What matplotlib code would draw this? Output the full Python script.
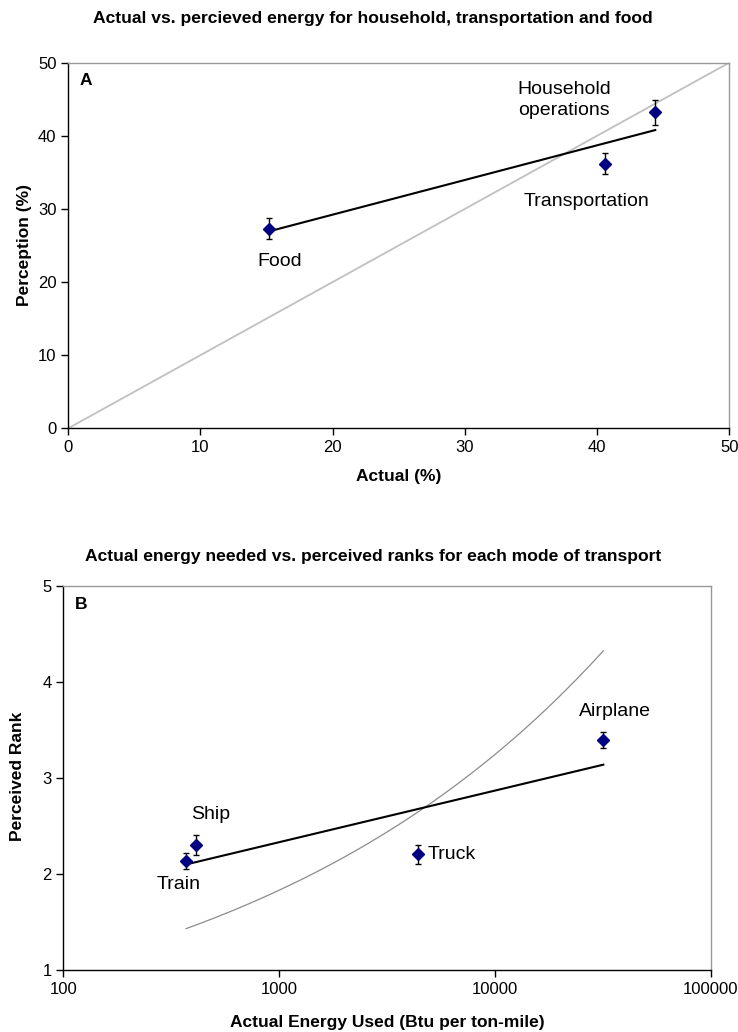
import numpy as np
import matplotlib
matplotlib.use("Agg")
import matplotlib.pyplot as plt
from matplotlib.ticker import FixedLocator, NullLocator, FuncFormatter

plt.rcParams['font.family'] = ['Liberation Sans', 'DejaVu Sans']

# -----------------------------------------------------------
# Data - panel A (household / transportation / food)
# -----------------------------------------------------------
cat_a = ['Food', 'Transportation', 'Household\noperations']
actual_a = [15.2, 40.6, 44.4]
percep_a = [27.3, 36.2, 43.2]
err_a = [1.45, 1.45, 1.7]
# where each label sits (data coords)
lab_a_x = [16.0, 39.2, 37.5]
lab_a_y = [22.8, 31.0, 44.9]

# -----------------------------------------------------------
# Data - panel B (modes of transport)
# -----------------------------------------------------------
cat_b = ['Train', 'Ship', 'Truck', 'Airplane']
energy_b = [371, 412, 4400, 31800]
percep_b = [2.135, 2.30, 2.205, 3.394]
err_b = [0.08, 0.10, 0.10, 0.08]
actual_rank_b = [1, 2, 3, 4]
lab_b_x = [344, 480, 4900, 36000]
lab_b_y = [1.89, 2.62, 2.20, 3.69]
lab_b_ha = ['center', 'center', 'left', 'center']

NAVY = '#000080'

fig = plt.figure(figsize=(7.38, 10.32), dpi=100)


def style_axes(ax):
    for s in ['top', 'right']:
        ax.spines[s].set_color('#999999')
        ax.spines[s].set_linewidth(1.0)
    for s in ['left', 'bottom']:
        ax.spines[s].set_color('black')
        ax.spines[s].set_linewidth(1.0)
    ax.tick_params(direction='out', length=5, width=1, labelsize=12,
                   top=False, right=False, colors='black', pad=3.5)


# -----------------------------------------------------------
# Panel A
# -----------------------------------------------------------
axA = fig.add_axes([0.0925, 0.585, 0.8957, 0.3543])
axA.plot([0, 50], [0, 50], color='#c0c0c0', lw=1.3, zorder=1)
coef = np.polyfit(actual_a, percep_a, 1)
xs = np.array([min(actual_a), max(actual_a)])
axA.plot(xs, np.polyval(coef, xs), color='black', lw=1.5, zorder=2)
axA.errorbar(actual_a, percep_a, yerr=err_a, fmt='D', color=NAVY, ms=6.5,
             ecolor='black', elinewidth=1.0, capsize=2.5, capthick=1.0, zorder=3)
for name, x, y in zip(cat_a, lab_a_x, lab_a_y):
    axA.text(x, y, name, fontsize=14, ha='center', va='center', linespacing=1.3)
axA.set_xlim(0, 50)
axA.set_ylim(0, 50)
axA.set_xticks([0, 10, 20, 30, 40, 50])
axA.set_yticks([0, 10, 20, 30, 40, 50])
axA.text(0.027, 0.951, 'A', transform=axA.transAxes, fontsize=12.5,
         fontweight='bold', ha='center', va='center')
style_axes(axA)

fig.text(373 / 738, 1 - 18 / 1032, 'Actual vs. percieved energy for household, transportation and food',
         fontsize=12.6, fontweight='bold', ha='center', va='center')
fig.text(0.54, 1 - 477 / 1032, 'Actual (%)', fontsize=12.5, fontweight='bold',
         ha='center', va='center')
fig.text(24 / 738, 1 - 245 / 1032, 'Perception (%)', fontsize=12.5, fontweight='bold',
         ha='center', va='center', rotation=90)

# -----------------------------------------------------------
# Panel B
# -----------------------------------------------------------
axB = fig.add_axes([0.0858, 0.0601, 0.8772, 0.3724])
axB.set_xscale('log')
xr = np.logspace(np.log10(min(energy_b)), np.log10(max(energy_b)), 200)
# power trend of actual rank vs energy
pw = np.polyfit(np.log(energy_b), np.log(actual_rank_b), 1)
axB.plot(xr, np.exp(np.polyval(pw, np.log(xr))), color='#8c8c8c', lw=0.9, zorder=1)
# log trend of perceived rank
lg = np.polyfit(np.log10(energy_b), percep_b, 1)
axB.plot(xr, np.polyval(lg, np.log10(xr)), color='black', lw=1.5, zorder=2)
axB.errorbar(energy_b, percep_b, yerr=err_b, fmt='D', color=NAVY, ms=6.5,
             ecolor='black', elinewidth=1.0, capsize=2.5, capthick=1.0, zorder=3)
for name, x, y, ha in zip(cat_b, lab_b_x, lab_b_y, lab_b_ha):
    axB.text(x, y, name, fontsize=14, ha=ha, va='center')
axB.set_xlim(100, 100000)
axB.set_ylim(1, 5)
axB.xaxis.set_major_locator(FixedLocator([100, 1000, 10000, 100000]))
axB.xaxis.set_minor_locator(NullLocator())
axB.xaxis.set_major_formatter(FuncFormatter(lambda v, p: f'{int(round(v))}'))
axB.set_yticks([1, 2, 3, 4, 5])
axB.text(0.027, 0.952, 'B', transform=axB.transAxes, fontsize=12.5,
         fontweight='bold', ha='center', va='center')
style_axes(axB)

fig.text(373.5 / 738, 1 - 556 / 1032,
         'Actual energy needed vs. perceived ranks for each mode of transport',
         fontsize=12.6, fontweight='bold', ha='center', va='center')
fig.text(387 / 738, 1 - 1022 / 1032, 'Actual Energy Used (Btu per ton-mile)',
         fontsize=12.5, fontweight='bold', ha='center', va='center')
fig.text(18 / 738, 1 - 776 / 1032, 'Perceived Rank', fontsize=12.5, fontweight='bold',
         ha='center', va='center', rotation=90)

fig.savefig('out.png', dpi=100)
